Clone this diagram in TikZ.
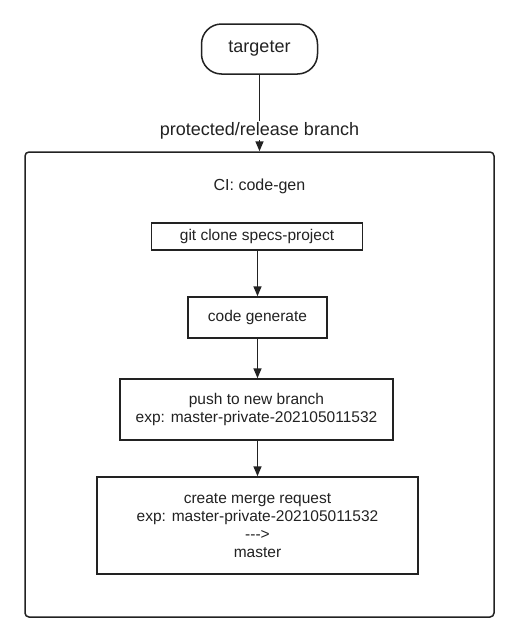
\documentclass[tikz,border=0pt]{standalone}
\usepackage{fontspec}
\setmainfont{Liberation Sans}
\usepackage{tikz}
\usetikzlibrary{shapes,arrows,arrows.meta,positioning}
\definecolor{ink}{RGB}{34, 34, 34}
\tikzstyle{arrow} = [
    line width=1.5pt,
    -{Triangle[length=10pt,width=8pt]},
    draw=ink
]
\tikzstyle{stepbox} = [
    rectangle,
    line width=1.5pt,
    draw=ink,
    align=center,
    text=ink,
    font=\fontsize{15.5}{18}\selectfont
]

\begin{document}
\begin{tikzpicture}[x=1pt,y=-1pt]
        \useasboundingbox[fill=white] (0,0) rectangle (519,643);
        % Trigger
        \node[stepbox, rounded corners=20pt, minimum width=116pt, minimum height=50pt,
              font=\fontsize{18}{21}\selectfont] (targeter) at (259.5,49) {targeter};
        % CI frame
        \node[stepbox, rounded corners=4pt, minimum width=469pt, minimum height=465pt] (ci) at (259.5,384.5) {};
        \node[text=ink, font=\fontsize{16}{19}\selectfont] (cititle) at (259.5,186) {CI: code-gen};
        
        % Steps
        \node[stepbox, minimum width=211pt, minimum height=27pt] (clone) at (257,236.5) {git clone specs-project};
        \node[stepbox, minimum width=139pt, minimum height=41pt] (gen) at (257.5,317.5) {code generate};
        \node[stepbox, minimum width=273pt, minimum height=61pt] (push) at (256.5,409.5) {push to new branch\\exp: master-private-202105011532};
        \node[stepbox, minimum width=321pt, minimum height=97pt] (merge) at (257.5,525.5) {create merge request\\exp: master-private-202105011532\\-{}-{}->\\master};
        
        % Arrows
        \draw[arrow] (targeter) -- (ci.north -| targeter)
            node[pos=0.73, fill=white, text=ink, inner sep=1pt, font=\fontsize{18}{21}\selectfont] (trigger) {protected/release branch};
        \draw[arrow] (clone.south -| gen) -- (gen);
        \draw[arrow] (gen) -- (push.north -| gen);
        \draw[arrow] (push.south -| gen) -- (merge);
    \end{tikzpicture}
\end{document}
